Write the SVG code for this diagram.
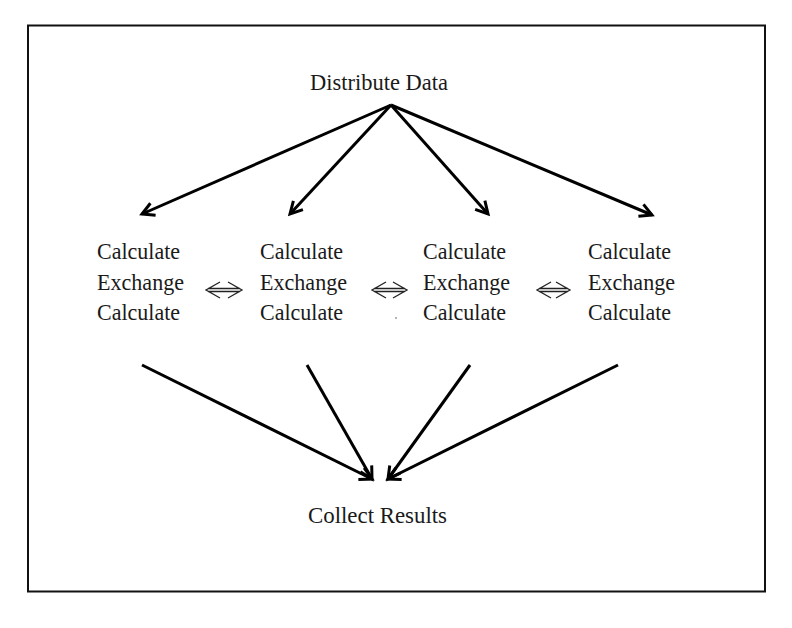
<svg xmlns="http://www.w3.org/2000/svg" width="792" height="628" viewBox="0 0 792 628">
<style>
.t{font-family:"Liberation Serif","Times New Roman",serif;font-size:24px;fill:#1a1a1a}
.c{fill:none;stroke:#000;stroke-width:3;stroke-linecap:butt}
.x{fill:none;stroke:#222;stroke-width:1.3}
</style>
<defs>
<marker id="ah" viewBox="-15 -9 18 18" markerWidth="18" markerHeight="18" refX="0" refY="0" markerUnits="userSpaceOnUse" orient="auto">
<path d="M-12,-6.5 L0,0 L-12,6.5" fill="none" stroke="#000" stroke-width="3"/>
</marker>
</defs>
<rect x="0" y="0" width="792" height="628" fill="#fff"/>
<rect id="frame" x="28" y="25.5" width="737" height="566" fill="none" stroke="#111" stroke-width="2"/>
<g id="distribute"><text class="t" x="310" y="90" textLength="138" lengthAdjust="spacingAndGlyphs">Distribute Data</text></g>
<g id="node1"><text class="t" x="97" y="259" textLength="83" lengthAdjust="spacingAndGlyphs">Calculate</text><text class="t" x="97" y="290" textLength="87" lengthAdjust="spacingAndGlyphs">Exchange</text><text class="t" x="97" y="320" textLength="83" lengthAdjust="spacingAndGlyphs">Calculate</text></g>
<g id="node2"><text class="t" x="260" y="259" textLength="83" lengthAdjust="spacingAndGlyphs">Calculate</text><text class="t" x="260" y="290" textLength="87" lengthAdjust="spacingAndGlyphs">Exchange</text><text class="t" x="260" y="320" textLength="83" lengthAdjust="spacingAndGlyphs">Calculate</text></g>
<g id="node3"><text class="t" x="423" y="259" textLength="83" lengthAdjust="spacingAndGlyphs">Calculate</text><text class="t" x="423" y="290" textLength="87" lengthAdjust="spacingAndGlyphs">Exchange</text><text class="t" x="423" y="320" textLength="83" lengthAdjust="spacingAndGlyphs">Calculate</text></g>
<g id="node4"><text class="t" x="588" y="259" textLength="83" lengthAdjust="spacingAndGlyphs">Calculate</text><text class="t" x="588" y="290" textLength="87" lengthAdjust="spacingAndGlyphs">Exchange</text><text class="t" x="588" y="320" textLength="83" lengthAdjust="spacingAndGlyphs">Calculate</text></g>
<g id="collect"><text class="t" x="308" y="523" textLength="139" lengthAdjust="spacingAndGlyphs">Collect Results</text></g>
<g id="connectors">
<path class="c" marker-end="url(#ah)" d="M391,105 L142,214"/>
<path class="c" marker-end="url(#ah)" d="M391,105 L290,214"/>
<path class="c" marker-end="url(#ah)" d="M391,105 L488,214"/>
<path class="c" marker-end="url(#ah)" d="M391,105 L652,215"/>
<path class="c" marker-end="url(#ah)" d="M142,365 L372,479"/>
<path class="c" marker-end="url(#ah)" d="M307,365 L372,479"/>
<path class="c" marker-end="url(#ah)" d="M470,365 L388,479"/>
<path class="c" marker-end="url(#ah)" d="M618,365 L388,479"/>
<path class="x" d="M220,282 L206,290 L220,298 M228,282 L242,290 L228,298 M208,288.5 H240 M208,291.5 H240"/>
<path class="x" d="M386,282 L372,290 L386,298 M393,282 L407,290 L393,298 M374,288.5 H405 M374,291.5 H405"/>
<path class="x" d="M551,282 L537,290 L551,298 M556,282 L570,290 L556,298 M539,288.5 H568 M539,291.5 H568"/>
</g>
<circle cx="396" cy="318" r="0.8" fill="#555"/>
</svg>
